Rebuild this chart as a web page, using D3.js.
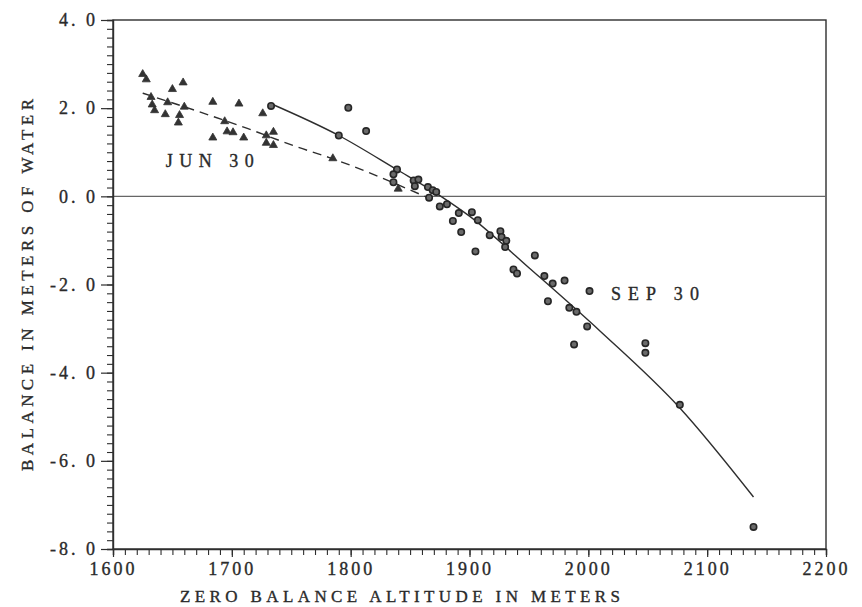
<!DOCTYPE html>
<html>
<head>
<meta charset="utf-8">
<script src="https://cdn.jsdelivr.net/npm/d3@7/dist/d3.min.js"></script>
<style>
  html, body { margin: 0; padding: 0; background: #fff; }
  svg text { font-family: "Liberation Serif", "DejaVu Serif", serif; fill: #2a2a2a; stroke: #2a2a2a; stroke-width: 0.35px; }
</style>
</head>
<body>
<svg id="chart" width="862" height="607"></svg>
<script>
// Axis domains and tick labels
const xDomain = [1600, 2200];
const yDomain = [-8, 4];
const xTickValues = [1600, 1700, 1800, 1900, 2000, 2100, 2200];
const yTickValues = [-8, -6, -4, -2, 0, 2, 4];

// June 30 observations (triangles): zero-balance altitude (m), balance (m w.e.)
const junAltitude = [1625, 1628, 1650, 1659, 1632, 1646, 1633, 1635, 1644, 1656, 1655, 1660,
  1684, 1706, 1694, 1684, 1696, 1701, 1710, 1726, 1729, 1735, 1729, 1735, 1785, 1840];
const junBalance = [2.77, 2.65, 2.43, 2.58, 2.25, 2.13, 2.08, 1.95, 1.86, 1.84, 1.67, 2.03,
  2.14, 2.10, 1.70, 1.33, 1.47, 1.45, 1.33, 1.88, 1.38, 1.46, 1.21, 1.16, 0.86, 0.17];

// September 30 observations (circles)
const sepAltitude = [1733, 1798, 1813, 1790, 1839, 1836, 1836, 1853, 1857, 1854, 1865, 1869,
  1872, 1866, 1875, 1881, 1891, 1902, 1907, 1886, 1893, 1917, 1926, 1927, 1931, 1930, 1905,
  1955, 1937, 1940, 1963, 1970, 1980, 2001, 1966, 1984, 1990, 1999, 1988, 2048, 2048, 2077, 2139];
const sepBalance = [2.05, 2.01, 1.48, 1.38, 0.61, 0.50, 0.32, 0.36, 0.38, 0.23, 0.21, 0.14,
  0.10, -0.03, -0.23, -0.18, -0.38, -0.36, -0.54, -0.56, -0.81, -0.88, -0.79, -0.92, -1.01, -1.15, -1.25,
  -1.34, -1.66, -1.75, -1.81, -1.98, -1.91, -2.15, -2.38, -2.53, -2.62, -2.95, -3.36, -3.33, -3.55, -4.73, -7.50];

// Fitted curves
const junFitAltitude = [1625, 1669, 1713, 1755, 1782, 1864];
const junFitBalance = [2.34, 1.95, 1.54, 1.12, 0.88, -0.02];
const sepFitAltitude = [1733, 1790, 1838, 1876, 1900, 1950, 2010, 2077, 2139];
const sepFitBalance = [2.10, 1.38, 0.62, 0.00, -0.45, -1.62, -3.06, -4.80, -6.82];

const svg = d3.select("#chart");
const plotLeft = 113, plotRight = 826, plotTop = 20, plotBottom = 549;

const x = d3.scaleLinear().domain(xDomain).range([plotLeft, plotRight]);
const y = d3.scaleLinear().domain(yDomain).range([plotBottom, plotTop]);

const ink = "#2e2e2e";

// Frame
svg.append("rect")
  .attr("x", plotLeft).attr("y", plotTop)
  .attr("width", plotRight - plotLeft).attr("height", plotBottom - plotTop)
  .attr("fill", "none").attr("stroke", ink).attr("stroke-width", 1.4);

// Zero line
svg.append("line")
  .attr("x1", plotLeft).attr("x2", plotRight)
  .attr("y1", y(0)).attr("y2", y(0))
  .attr("stroke", "#666").attr("stroke-width", 1.2);

// Minor ticks
const yMinor = d3.range(-8, 4.001, 0.2).map(v => +v.toFixed(1));
const xMinor = d3.range(1600, 2200.1, 10);

const yMinorAxis = svg.append("g").attr("transform", `translate(${plotLeft},0)`)
  .call(d3.axisLeft(y).tickValues(yMinor).tickSize(6).tickFormat(""));
const xMinorAxis = svg.append("g").attr("transform", `translate(0,${plotBottom})`)
  .call(d3.axisBottom(x).tickValues(xMinor).tickSize(6).tickFormat(""));
[yMinorAxis, xMinorAxis].forEach(g => {
  g.select(".domain").attr("stroke", ink).attr("stroke-width", 1.4);
  g.selectAll(".tick line").attr("stroke", ink).attr("stroke-width", 1.1);
});

// Major ticks with labels
const yAxis = svg.append("g").attr("transform", `translate(${plotLeft},0)`)
  .call(d3.axisLeft(y).tickValues(yTickValues).tickSize(12).tickPadding(3)
    .tickFormat(d => d3.format(".1f")(d).replace("\u2212", "-").replace(".", ". ")));
const xAxis = svg.append("g").attr("transform", `translate(0,${plotBottom})`)
  .call(d3.axisBottom(x).tickValues(xTickValues).tickSize(8).tickPadding(5)
    .tickFormat(d3.format("d")));
[yAxis, xAxis].forEach(g => {
  g.select(".domain").remove();
  g.selectAll(".tick line").attr("stroke", ink).attr("stroke-width", 1.2);
  g.selectAll(".tick text")
    .attr("fill", "#2a2a2a")
    .style("font-family", '"Liberation Serif", serif')
    .style("font-size", "18px")
    .style("letter-spacing", "3px");
});

// Fitted lines
const line = d3.line().x(d => x(d[0])).y(d => y(d[1])).curve(d3.curveMonotoneX);
svg.append("path")
  .datum(junFitAltitude.map((a, i) => [a, junFitBalance[i]]))
  .attr("d", line).attr("fill", "none")
  .attr("stroke", ink).attr("stroke-width", 1.4)
  .attr("stroke-dasharray", "9,6");
svg.append("path")
  .datum(sepFitAltitude.map((a, i) => [a, sepFitBalance[i]]))
  .attr("d", line).attr("fill", "none")
  .attr("stroke", ink).attr("stroke-width", 1.4);

// June triangles
const tri = d3.symbol().type(d3.symbolTriangle).size(28);
svg.append("g").selectAll("path")
  .data(junAltitude.map((a, i) => [a, junBalance[i]]))
  .join("path")
  .attr("d", tri)
  .attr("transform", d => `translate(${x(d[0])},${y(d[1])})`)
  .attr("fill", "#333").attr("stroke", "#333").attr("stroke-width", 0.8);

// September circles
svg.append("g").selectAll("circle")
  .data(sepAltitude.map((a, i) => [a, sepBalance[i]]))
  .join("circle")
  .attr("cx", d => x(d[0])).attr("cy", d => y(d[1]))
  .attr("r", 3.2)
  .attr("fill", "#6a6a6a").attr("stroke", "#262626").attr("stroke-width", 1.6);

// Curve labels
svg.append("text").attr("x", x(1681.5)).attr("y", y(0.75))
  .attr("text-anchor", "middle").attr("dominant-baseline", "middle")
  .attr("textLength", 88).attr("lengthAdjust", "spacing")
  .style("font-size", "18px")
  .text("JUN 30");
svg.append("text").attr("x", x(2056)).attr("y", y(-2.26))
  .attr("text-anchor", "middle").attr("dominant-baseline", "middle")
  .attr("textLength", 88).attr("lengthAdjust", "spacing")
  .style("font-size", "18px")
  .text("SEP 30");

// Axis titles
svg.append("text")
  .attr("x", 400).attr("y", 602)
  .attr("text-anchor", "middle")
  .attr("textLength", 440).attr("lengthAdjust", "spacing")
  .style("font-size", "17px")
  .text("ZERO BALANCE ALTITUDE IN METERS");
svg.append("text")
  .attr("transform", `translate(33,285) rotate(-90)`)
  .attr("text-anchor", "middle")
  .attr("textLength", 372).attr("lengthAdjust", "spacing")
  .style("font-size", "17px")
  .text("BALANCE IN METERS OF WATER");
</script>
</body>
</html>
